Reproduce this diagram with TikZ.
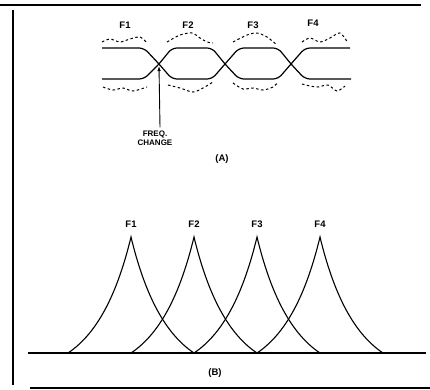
\documentclass[tikz,border=0pt]{standalone}
\usepackage{fontspec}
\setmainfont{Liberation Sans}
\usepackage{tikz}
\usetikzlibrary{positioning, arrows.meta, calc}

\begin{document}
\begin{tikzpicture}[x=1pt, y=-1pt,
  frame/.style={line width=1.6pt, black},
  signal/.style={line width=1.2pt, black, rounded corners=5pt},
  band/.style={line width=1pt, dashed, dash pattern=on 2.5pt off 2.5pt},
  lbl/.style={font=\fontsize{9.5}{11}\selectfont\bfseries, inner sep=1pt},
  note/.style={font=\fontsize{8}{9}\selectfont\bfseries, align=center, inner sep=1pt},
  peak/.style={line width=1.1pt, black},
  link/.style={-{Latex[length=5pt, width=3.5pt]}, line width=0.9pt}
]
  \useasboundingbox (0,0) rectangle (430,389);

  % frame
  \draw[frame] (0,5) -- (421,5);
  \draw[frame] (13,10) -- (13,385);
  \draw[frame] (30,388) -- (430,388);

  % (A) switching waveform
  \draw[signal] (102,48) -- (144,48) -- (159,64) -- (172,79) -- (212,79)
    -- (225,64) -- (239,48) -- (278,48) -- (291,64) -- (305,79) -- (351,79);
  \draw[signal] (102,79) -- (144,79) -- (159,64) -- (172,48) -- (212,48)
    -- (225,64) -- (239,79) -- (278,79) -- (291,64) -- (305,48) -- (350,48);
  \coordinate (x1) at (159,66);

  % dashed spectra round each tone
  \draw[band] plot[smooth] coordinates {(102,42) (110,39) (120,42) (130,39) (140,37) (147,43)};
  \draw[band] plot[smooth] coordinates {(167,42) (180,35) (192,33) (200,38) (207,42) (213,43)};
  \draw[band] plot[smooth] coordinates {(233,42) (247,35) (257,33) (267,37) (277,45)};
  \draw[band] plot[smooth] coordinates {(302,42) (310,38) (320,42) (330,38) (340,33) (348,43)};
  \draw[band] plot[smooth] coordinates {(103,87) (113,90) (123,88) (133,91) (147,87)};
  \draw[band] plot[smooth] coordinates {(168,85) (180,88) (193,92) (203,88) (213,82)};
  \draw[band] plot[smooth] coordinates {(233,83) (243,89) (253,88) (263,90) (273,87) (278,82)};
  \draw[band] plot[smooth] coordinates {(302,84) (310,86) (318,87) (328,85) (337,91) (345,86)};

  \node[lbl] (a1) at (125,25) {F1};
  \node[lbl] (a2) at (188,25) {F2};
  \node[lbl] (a3) at (253,25) {F3};
  \node[lbl] (a4) at (313,23) {F4};

  \node[note] (chg) at (155,138) {FREQ.\\CHANGE};
  \draw[link] ($(chg.north)+(5,-2)$) -- (x1);
  \node[lbl] (capA) at (222,159) {(A)};

  % (B) tone spectra
  \draw[signal] (28,353) -- (426,353);
  \foreach \p/\name in {131/F1, 194/F2, 257/F3, 320/F4} {
    \draw[peak] (\p-63,353) .. controls (\p-31.5,332) and (\p-12.6,289) .. (\p,237)
      .. controls (\p+12.6,289) and (\p+31.5,332) .. (\p+63,353);
    \node[lbl] (b\p) at (\p,224) {\name};
  }
  \node[lbl] (capB) at (215,373) {(B)};
\end{tikzpicture}
\end{document}
